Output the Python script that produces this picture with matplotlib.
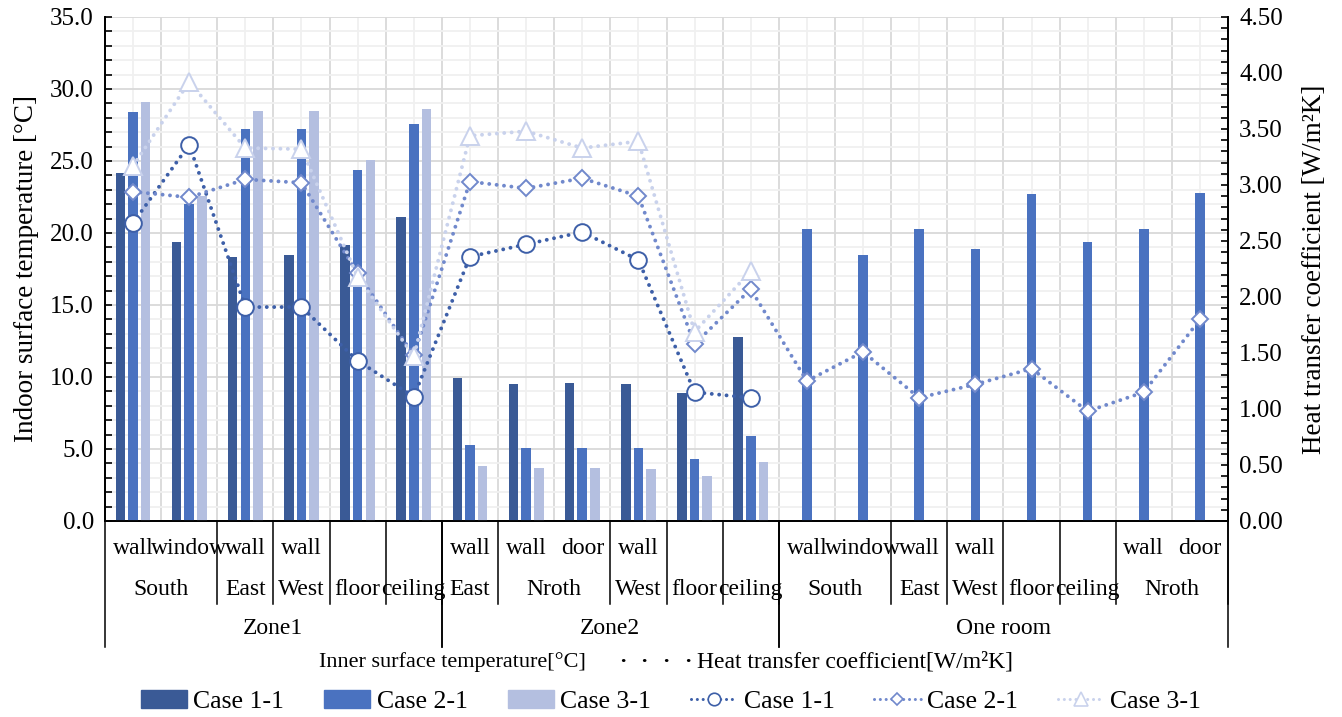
import matplotlib
matplotlib.use("Agg")
import matplotlib.pyplot as plt
import matplotlib.transforms as mtransforms
from matplotlib.patches import Patch
from matplotlib.lines import Line2D
import numpy as np

plt.rcParams['font.family'] = ['Liberation Serif', 'DejaVu Serif']

# category levels
level1 = ["wall", "window", "wall", "wall", "", "", "wall", "wall", "door", "wall", "", "",
          "wall", "window", "wall", "wall", "", "", "wall", "door"]
level2 = ["South", "South", "East", "West", "floor", "ceiling", "East", "Nroth", "Nroth", "West",
          "floor", "ceiling", "South", "South", "East", "West", "floor", "ceiling", "Nroth", "Nroth"]
level3 = ["Zone1"] * 6 + ["Zone2"] * 6 + ["One room"] * 8

# inner surface temperature [C]
temp_case1 = [24.2, 19.4, 18.3, 18.5, 19.2, 21.1, 9.9, 9.5, 9.6, 9.5, 8.9, 12.8]
temp_case2 = [28.4, 22.0, 27.2, 27.2, 24.4, 27.6, 5.3, 5.1, 5.1, 5.1, 4.3, 5.9,
              20.3, 18.5, 20.3, 18.9, 22.7, 19.4, 20.3, 22.8]
temp_case3 = [29.1, 22.6, 28.5, 28.5, 25.1, 28.6, 3.8, 3.7, 3.7, 3.6, 3.1, 4.1]

# heat transfer coefficient [W/m2K]
htc_case1 = [2.66, 3.36, 1.91, 1.91, 1.43, 1.11, 2.36, 2.47, 2.58, 2.33, 1.15, 1.10]
htc_case2 = [2.94, 2.89, 3.05, 3.02, 2.21, 1.48, 3.03, 2.97, 3.06, 2.90, 1.58, 2.07,
             1.25, 1.51, 1.10, 1.22, 1.36, 0.98, 1.15, 1.80]
htc_case3 = [3.17, 3.92, 3.33, 3.32, 2.18, 1.47, 3.44, 3.48, 3.33, 3.39, 1.69, 2.23]

bar_cols = ['#3A5A96', '#4A72C0', '#B4BFE0']
line_cols = ['#3D5FA8', '#7189CC', '#C9D2EC']

fig = plt.figure(figsize=(13.42, 7.17), dpi=100)
ax = fig.add_axes([0.0782, 0.2734, 0.9151 - 0.0782, 0.9763 - 0.2734])
ax2 = ax.twinx()

n = len(level2)
x = np.arange(n)
w = 0.17
off = 0.225

ax.bar(x[:len(temp_case1)] - off, temp_case1, w, color=bar_cols[0], zorder=3)
ax.bar(x, temp_case2, w, color=bar_cols[1], zorder=3)
ax.bar(x[:len(temp_case3)] + off, temp_case3, w, color=bar_cols[2], zorder=3)

dots = (0, (0.01, 1.9))
kw = dict(linestyle=dots, linewidth=2.8, dash_capstyle='round', markeredgewidth=1.4)
ax2.plot(x[:len(htc_case1)], htc_case1, color=line_cols[0], marker='o', markersize=12,
         markerfacecolor='white', markeredgecolor=line_cols[0], **kw)
ax2.plot(x, htc_case2, color=line_cols[1], marker='D', markersize=8.5,
         markerfacecolor='white', markeredgecolor=line_cols[1], **kw)
ax2.plot(x[:len(htc_case3)], htc_case3, color=line_cols[2], marker='^', markersize=13,
         markerfacecolor='white', markeredgecolor=line_cols[2], **kw)

# axes, ticks, grid
ax.set_xlim(-0.5, n - 0.5)
ax.set_ylim(0, 35)
ax2.set_ylim(0, 4.5)
ax.set_yticks(np.arange(0, 35.1, 5))
ax.set_yticks(np.arange(0, 35.1, 1), minor=True)
ax.set_yticklabels([f"{v:.1f}" for v in np.arange(0, 35.1, 5)])
ax2.set_yticks(np.arange(0, 4.51, 0.5))
ax2.set_yticks(np.arange(0, 4.51, 0.1), minor=True)
ax2.set_yticklabels([f"{v:.2f}" for v in np.arange(0, 4.51, 0.5)])
ax.set_xticks(np.arange(-0.5, n, 1))
ax.set_xticks(x, minor=True)
ax.set_xticklabels([])
ax.tick_params(axis='x', which='both', length=0)
ax.tick_params(axis='y', which='both', direction='in', length=5, width=1.2, labelsize=18, pad=8)
ax2.tick_params(axis='y', which='both', direction='in', length=5, width=1.2, labelsize=18, pad=8)
ax.grid(True, which='major', color='#D9D9D9', linewidth=1.3, zorder=0)
ax.grid(True, which='minor', color='#F0F0F0', linewidth=1.3, zorder=0)
ax.set_axisbelow(True)
for a in (ax, ax2):
    a.spines['top'].set_visible(False)
    for s in ('left', 'right', 'bottom'):
        a.spines[s].set_linewidth(1.3)
ax.set_ylabel("Indoor surface temperature [°C]", fontsize=19.5, labelpad=8)
ax2.set_ylabel("Heat transfer coefficient [W/m²K]", fontsize=19.5, labelpad=14)

# multi-level category axis
trans = mtransforms.blended_transform_factory(ax.transData, ax.transAxes)
fs = 17
for i in range(n):
    if level1[i]:
        ax.text(i, -0.054, level1[i], transform=trans, ha='center', va='center', fontsize=fs)
i = 0
while i < n:
    j = i
    while j + 1 < n and level2[j + 1] == level2[i] and level3[j + 1] == level3[i]:
        j += 1
    ax.text((i + j) / 2, -0.135, level2[i], transform=trans, ha='center', va='center', fontsize=fs)
    ax.plot([j + 0.5, j + 0.5], [0, -0.165], transform=trans, color='black', lw=1.1, clip_on=False)
    i = j + 1
i = 0
while i < n:
    j = i
    while j + 1 < n and level3[j + 1] == level3[i]:
        j += 1
    ax.text((i + j) / 2, -0.214, level3[i], transform=trans, ha='center', va='center', fontsize=fs)
    ax.plot([i - 0.5, i - 0.5], [0, -0.25], transform=trans, color='black', lw=1.1, clip_on=False)
    ax.plot([j + 0.5, j + 0.5], [0, -0.25], transform=trans, color='black', lw=1.1, clip_on=False)
    i = j + 1

# legend
fig.text(452 / 1342, 0.0767, "Inner surface temperature[°C]", ha='center', va='center', fontsize=16)
for px in (623, 644, 666, 688):
    fig.text(px / 1342, 0.0767, "·", ha='center', va='center', fontsize=16, fontweight='bold')
fig.text(697 / 1342, 0.0767, "Heat transfer coefficient[W/m²K]", ha='left', va='center', fontsize=17)
lkw = dict(linestyle=dots, linewidth=2.2, dash_capstyle='round', markerfacecolor='white', markeredgewidth=1.2)
handles = [Patch(color=bar_cols[0]), Patch(color=bar_cols[1]), Patch(color=bar_cols[2]),
           Line2D([], [], color=line_cols[0], marker='o', markersize=9, markeredgecolor=line_cols[0], **lkw),
           Line2D([], [], color=line_cols[1], marker='D', markersize=6.5, markeredgecolor=line_cols[1], **lkw),
           Line2D([], [], color=line_cols[2], marker='^', markersize=9.5, markeredgecolor=line_cols[2], **lkw)]
labels = ["Case 1-1", "Case 2-1", "Case 3-1", "Case 1-1", "Case 2-1", "Case 3-1"]
fig.legend(handles, labels, loc='center', bbox_to_anchor=(0.5, 0.021), ncol=6, frameon=False,
           fontsize=18.5, handlelength=1.8, handleheight=0.7, handletextpad=0.25, columnspacing=1.55)

fig.savefig("out.png", dpi=100)
